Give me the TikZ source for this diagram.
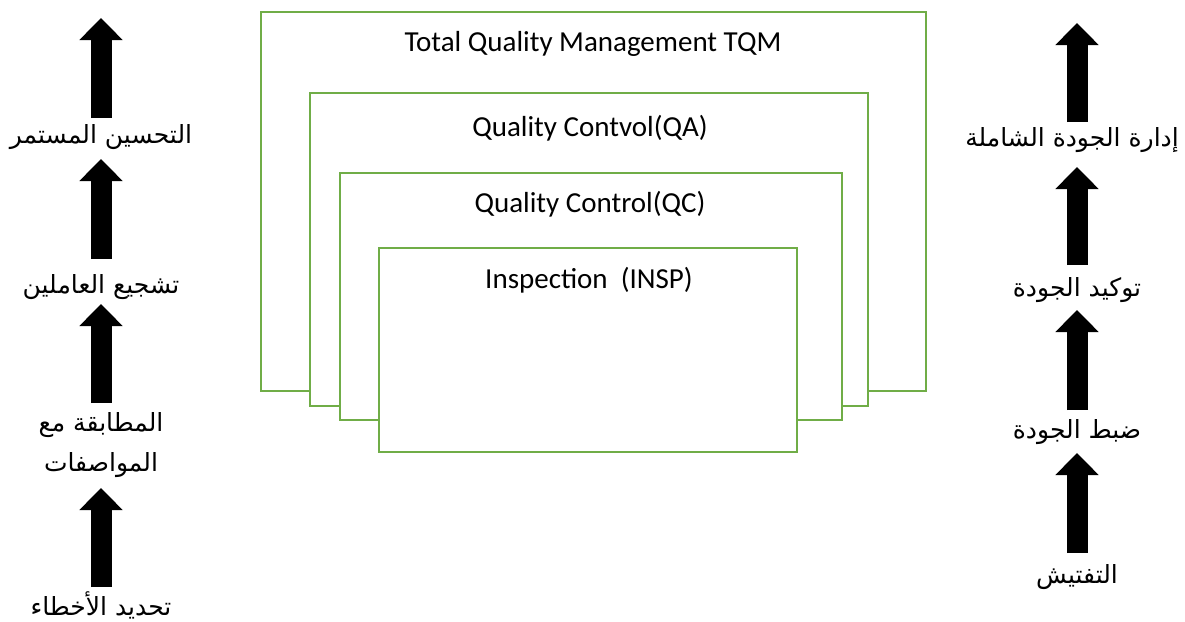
\documentclass[tikz,border=0pt]{standalone}
\usepackage{fontspec}
\setmainfont{Carlito}
\newfontfamily\arabicfont[Script=Arabic]{DejaVu Sans}
\TeXXeTstate=1
\usetikzlibrary{arrows.meta}
\begin{document}
\begin{tikzpicture}[x=1pt,y=-1pt,
  qbox/.style={draw=qgreen,line width=2.8pt,fill=white},
  qlabel/.style={font=\fontsize{29}{34}\selectfont,inner sep=0pt,anchor=center},
  arlabel/.style={font=\arabicfont\fontsize{25}{40}\selectfont,inner sep=0pt,anchor=center,align=center},
  bigarrow/.style={line width=21pt,line cap=butt,-{Triangle[width=42pt,length=22pt]}}]
\definecolor{qgreen}{HTML}{70AD47}
\useasboundingbox (0,0) rectangle (1185,621);
% nested boxes
\draw[qbox] (261,12) rectangle (926,391);
\draw[qbox] (310,93) rectangle (868,406);
\draw[qbox] (340,173) rectangle (842,420);
\draw[qbox] (379,248) rectangle (797,452);
\node[qlabel] (tqm) at (593,44) {Total Quality Management TQM};
\node[qlabel] (qa) at (590,128) {Quality Contvol(QA)};
\node[qlabel] (qc) at (590,204) {Quality Control(QC)};
\node[qlabel] (insp) at (589,280) {Inspection\ \ (INSP)};
% left column
\node[arlabel] (l1) at (101,137) {\beginR التحسين المستمر\endR};
\node[arlabel] (l2) at (101,287) {\beginR تشجيع العاملين\endR};
\node[arlabel] (l3) at (101,445) {\beginR المطابقة مع\endR\\\beginR المواصفات\endR};
\node[arlabel] (l4) at (101,605) {\beginR تحديد الأخطاء\endR};
\coordinate (la1s) at (101,118); \coordinate (la1e) at (101,18);
\coordinate (la2s) at (101,259); \coordinate (la2e) at (101,159);
\coordinate (la3s) at (101,403); \coordinate (la3e) at (101,304);
\coordinate (la4s) at (101,587); \coordinate (la4e) at (101,488);
\draw[bigarrow] (la1s) -- (la1e);
\draw[bigarrow] (la2s) -- (la2e);
\draw[bigarrow] (la3s) -- (la3e);
\draw[bigarrow] (la4s) -- (la4e);
% right column
\node[arlabel] (r1) at (1072,140) {\beginR إدارة الجودة الشاملة\endR};
\node[arlabel] (r2) at (1077,290) {\beginR توكيد الجودة\endR};
\node[arlabel] (r3) at (1077,432) {\beginR ضبط الجودة\endR};
\node[arlabel] (r4) at (1077,577) {\beginR التفتيش\endR};
\coordinate (ra1s) at (1077,122); \coordinate (ra1e) at (1077,23);
\coordinate (ra2s) at (1077,265); \coordinate (ra2e) at (1077,167);
\coordinate (ra3s) at (1077,410); \coordinate (ra3e) at (1077,310);
\coordinate (ra4s) at (1077,553); \coordinate (ra4e) at (1077,453);
\draw[bigarrow] (ra1s) -- (ra1e);
\draw[bigarrow] (ra2s) -- (ra2e);
\draw[bigarrow] (ra3s) -- (ra3e);
\draw[bigarrow] (ra4s) -- (ra4e);
\end{tikzpicture}
\end{document}
